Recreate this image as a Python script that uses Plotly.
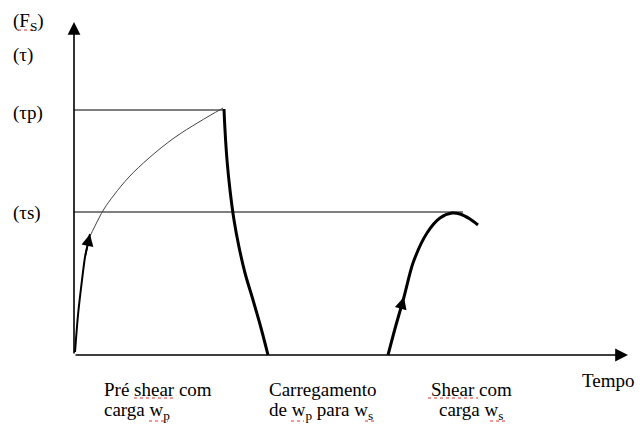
import plotly.graph_objects as go

# Schematic coordinates (time, stress); origin at the axes corner
pre_load_t = [1, 4, 8, 11, 14, 16]
pre_load_s = [3, 40, 75, 98, 112, 121]

pre_shear_t = [16, 20, 25, 30, 40, 55, 75, 100, 125, 149]
pre_shear_s = [119, 127, 137, 146, 160, 178, 197, 217, 233, 247]

drop_t = [150, 151, 153, 156, 160, 165, 171, 179, 187, 194]
drop_s = [246, 225, 195, 165, 135, 108, 82, 55, 27, 0]

shear_t = [314, 322, 330, 339, 353, 366, 378, 386, 396, 404]
shear_s = [0, 30, 58, 92, 122, 137, 142, 141, 136, 130]

tau_p = 245
tau_s = 143
t_peak = 149
t_ws_end = 389

axis_t_max = 554
axis_s_max = 333

y_labels = ["(F<sub>S</sub>)", "(τ)", "(τp)", "(τs)"]
y_label_pos = [333, 300, 242, 142]

phase_line1 = ["Pré shear com", "Carregamento", "Shear com"]
phase_line2 = ["carga w<sub>p</sub>", "de w<sub>p</sub> para w<sub>s</sub>", "carga w<sub>s</sub>"]
phase_label_t = [28, 193, 397]
phase_anchor = ["left", "left", "center"]

# red spell-check underlines (start, end, level)
squiggle_t0 = [-56, 60, 75, 217, 291, 354, 416]
squiggle_t1 = [-38, 101, 94, 230, 303, 404, 431]
squiggle_s = [325, -43, -66, -66, -66, -43, -66]

FONT = "Liberation Serif"
FS = 19

fig = go.Figure()

# reference levels
fig.add_trace(go.Scatter(x=[0, t_peak], y=[tau_p, tau_p], mode="lines",
                         line=dict(color="black", width=1), hoverinfo="skip"))
fig.add_trace(go.Scatter(x=[0, t_ws_end], y=[tau_s, tau_s], mode="lines",
                         line=dict(color="black", width=1), hoverinfo="skip"))

fig.add_trace(go.Scatter(x=pre_load_t, y=pre_load_s, mode="lines",
                         line=dict(color="black", width=2, shape="spline", smoothing=0.6), hoverinfo="skip"))
fig.add_trace(go.Scatter(x=pre_shear_t, y=pre_shear_s, mode="lines",
                         line=dict(color="#444444", width=1, shape="spline", smoothing=1.0), hoverinfo="skip"))
fig.add_trace(go.Scatter(x=drop_t, y=drop_s, mode="lines",
                         line=dict(color="black", width=3, shape="spline", smoothing=1.0), hoverinfo="skip"))
fig.add_trace(go.Scatter(x=shear_t, y=shear_s, mode="lines",
                         line=dict(color="black", width=3, shape="spline", smoothing=0.8), hoverinfo="skip"))

for a, b, s in zip(squiggle_t0, squiggle_t1, squiggle_s):
    fig.add_trace(go.Scatter(x=[a, b], y=[s, s], mode="lines",
                             line=dict(color="#e03030", width=1, dash="dot"), hoverinfo="skip"))

annotations = []
# axes with arrowheads
annotations.append(dict(x=0, y=axis_s_max, ax=0, ay=0, xref="x", yref="y", axref="x", ayref="y",
                        showarrow=True, arrowhead=2, arrowsize=1.6, arrowwidth=1.6, arrowcolor="black", text=""))
annotations.append(dict(x=axis_t_max, y=0, ax=0, ay=0, xref="x", yref="y", axref="x", ayref="y",
                        showarrow=True, arrowhead=2, arrowsize=1.6, arrowwidth=1.6, arrowcolor="black", text=""))
# direction arrows on curves
annotations.append(dict(x=pre_load_t[-1], y=pre_load_s[-1], ax=pre_load_t[-3], ay=pre_load_s[-3],
                        xref="x", yref="y", axref="x", ayref="y",
                        showarrow=True, arrowhead=2, arrowsize=1.5, arrowwidth=1.6, arrowcolor="black", text=""))
annotations.append(dict(x=shear_t[2], y=shear_s[2], ax=shear_t[1], ay=shear_s[1],
                        xref="x", yref="y", axref="x", ayref="y",
                        showarrow=True, arrowhead=2, arrowsize=1.5, arrowwidth=1.6, arrowcolor="black", text=""))

for lab, pos in zip(y_labels, y_label_pos):
    annotations.append(dict(x=-63, y=pos, xref="x", yref="y", text=lab, showarrow=False,
                            xanchor="left", yanchor="middle", font=dict(family=FONT, size=FS, color="black")))
for l1, l2, t, anc in zip(phase_line1, phase_line2, phase_label_t, phase_anchor):
    annotations.append(dict(x=t, y=-34, xref="x", yref="y", text=l1, showarrow=False,
                            xanchor=anc, yanchor="middle",
                            font=dict(family=FONT, size=FS, color="black")))
    annotations.append(dict(x=t, y=-56, xref="x", yref="y", text=l2, showarrow=False,
                            xanchor=anc, yanchor="middle",
                            font=dict(family=FONT, size=FS, color="black")))
annotations.append(dict(x=563, y=-25, xref="x", yref="y", text="Tempo", showarrow=False,
                        xanchor="right", yanchor="middle", font=dict(family=FONT, size=FS, color="black")))

fig.update_layout(
    width=640, height=425,
    margin=dict(l=0, r=0, t=0, b=0),
    paper_bgcolor="white", plot_bgcolor="white",
    showlegend=False,
    hovermode=False,
    xaxis=dict(range=[-74, 566], visible=False, fixedrange=True),
    yaxis=dict(range=[-70, 355], visible=False, fixedrange=True),
    annotations=annotations,
)

# remove the page's default body margin so the figure fills the window exactly
fig.write_html("out.html",
               config={"displayModeBar": False, "staticPlot": True},
               post_script="document.body.style.margin='0';document.body.style.overflow='hidden';")
